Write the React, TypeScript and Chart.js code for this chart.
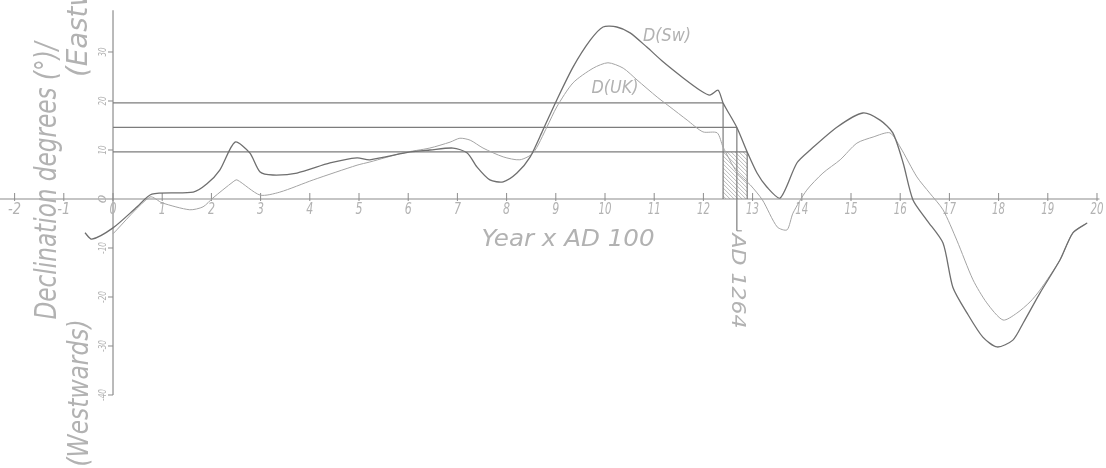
import React, { useEffect, useRef } from "react";
import { Chart, registerables } from "chart.js";
Chart.register(...registerables);

// ---- Data (years in units of AD 100, declination in degrees) ----
const swYears = [-0.57, -0.43, 0, 0.49, 0.79, 1.63, 1.91, 2.17, 2.48, 2.78, 2.99, 3.25, 3.74, 4.41, 4.96, 5.22, 6.04, 6.44, 6.91, 7.2, 7.4, 7.66, 7.93, 8.21, 8.48, 8.74, 9.02, 9.35, 9.7, 9.96, 10.24, 10.51, 10.85, 11.18, 11.59, 11.93, 12.13, 12.3, 12.4, 12.68, 12.89, 13.09, 13.29, 13.56, 13.9, 14.17, 14.72, 15.24, 15.59, 15.85, 16.06, 16.26, 16.54, 16.87, 17.07, 17.36, 17.68, 17.97, 18.29, 18.5, 18.84, 19.25, 19.51, 19.8];
const swDecl = [-6.9, -8.2, -5.9, -1.6, 1.0, 1.4, 3.1, 5.9, 11.6, 9.4, 5.5, 4.9, 5.3, 7.35, 8.4, 8.0, 9.6, 10.0, 10.4, 9.4, 6.5, 3.9, 3.5, 5.3, 8.6, 14.1, 20.2, 26.9, 32.4, 35.1, 35.1, 33.9, 31.0, 28.0, 24.7, 22.2, 21.2, 22.2, 19.6, 14.6, 9.6, 5.3, 2.45, 0.2, 7.35, 10.0, 14.7, 17.55, 16.1, 13.5, 7.35, -0.2, -4.3, -9.0, -18.0, -23.3, -28.2, -30.2, -28.8, -25.3, -19.2, -12.4, -6.9, -4.9];

const ukYears = [0, 0.75, 1.0, 1.56, 1.83, 2.03, 2.44, 2.52, 2.99, 3.39, 4.07, 4.96, 5.22, 5.89, 6.44, 6.85, 7.05, 7.26, 7.52, 7.93, 8.27, 8.54, 8.82, 9.02, 9.35, 9.76, 10.06, 10.37, 10.65, 11.06, 11.32, 11.67, 11.99, 12.28, 12.4, 12.68, 12.95, 13.2, 13.5, 13.7, 13.82, 14.1, 14.43, 14.78, 15.12, 15.45, 15.79, 16.0, 16.34, 16.6, 16.87, 17.15, 17.48, 17.76, 18.09, 18.37, 18.64, 18.84, 19.25, 19.51, 19.8];
const ukDecl = [-7.1, 0.4, -0.8, -2.2, -1.6, 0.2, 3.5, 3.9, 0.8, 1.4, 3.9, 6.9, 7.55, 9.4, 10.4, 11.6, 12.4, 12.0, 10.4, 8.6, 8.0, 9.4, 14.7, 18.8, 23.7, 26.7, 27.8, 26.7, 24.3, 20.8, 18.8, 16.1, 13.7, 13.5, 10.6, 5.5, 2.9, -0.2, -5.7, -6.3, -2.9, 1.8, 5.3, 8.0, 11.4, 12.65, 13.5, 10.6, 4.5, 1.2, -2.2, -8.4, -16.5, -21.2, -24.7, -23.3, -21.0, -18.6, -12.4, -6.9, -4.9];

const xTickValues = [-2, -1, 0, 1, 2, 3, 4, 5, 6, 7, 8, 9, 10, 11, 12, 13, 14, 15, 16, 17, 18, 19, 20];
const xTickLabels = ["-2", "-1", "0", "1", "2", "3", "4", "5", "6", "7", "8", "9", "10", "11", "12", "13", "14", "15", "16", "17", "18", "19", "20"];
const yTickValues = [-40, -30, -20, -10, 0, 10, 20, 30];
const yTickLabels = ["-40", "-30", "-20", "-10", "0", "10", "20", "30"];

const refLevels = [19.6, 14.6, 9.6];
const refYears = [12.4, 12.68, 12.89];
const markBottom = -6.5;
const markLabel = "AD 1264";

const xTitle = "Year x AD 100";
const yTitle = "Declination degrees (°)/";
const eastLabel = "(Eastwards)";
const westLabel = "(Westwards)";
const swLabel = "D(Sw)";
const ukLabel = "D(UK)";

const TEXT = "#b2b2b2";
const FONT = '"DejaVu Sans", sans-serif';

function drawText(ctx: CanvasRenderingContext2D, text: string, x: number, y: number, size: number, width: number | null, angle: number) {
  ctx.save();
  ctx.translate(x, y);
  ctx.rotate(angle);
  ctx.font = `italic 200 ${size}px ${FONT}`;
  const w = ctx.measureText(text).width;
  if (width) ctx.scale(width / w, 1);
  ctx.fillStyle = TEXT;
  ctx.textAlign = "center";
  ctx.textBaseline = "middle";
  ctx.fillText(text, 0, 0);
  ctx.restore();
}

const drawingPlugin = {
  id: "drawing",
  beforeDatasetsDraw(chart: any) {
    const ctx: CanvasRenderingContext2D = chart.ctx;
    const xs = chart.scales.x;
    const ys = chart.scales.y;
    const X = (v: number) => xs.getPixelForValue(v);
    const Y = (v: number) => ys.getPixelForValue(v);
    ctx.save();
    // hatch
    const hx0 = X(refYears[0]);
    const hx1 = X(refYears[2]);
    const hy0 = Y(refLevels[2]);
    const hy1 = Y(0);
    ctx.beginPath();
    ctx.rect(hx0, hy0, hx1 - hx0, hy1 - hy0);
    ctx.clip();
    ctx.strokeStyle = "#a8a8a8";
    ctx.lineWidth = 0.8;
    for (let k = -80; k < 80; k += 4) {
      ctx.beginPath();
      ctx.moveTo(hx0 + k, hy0);
      ctx.lineTo(hx0 + k + (hy1 - hy0), hy1);
      ctx.stroke();
    }
    ctx.restore();

    ctx.save();
    ctx.strokeStyle = "#8c8c8c";
    ctx.lineWidth = 1.2;
    // x axis
    ctx.beginPath();
    ctx.moveTo(0, Y(0));
    ctx.lineTo(X(20.05), Y(0));
    ctx.stroke();
    // y axis
    ctx.beginPath();
    ctx.moveTo(X(0), Y(-40));
    ctx.lineTo(X(0), Y(38.5));
    ctx.stroke();
    ctx.lineWidth = 1;
    xTickValues.forEach((v) => {
      ctx.beginPath();
      ctx.moveTo(X(v), Y(0) - 6);
      ctx.lineTo(X(v), Y(0) + 2);
      ctx.stroke();
    });
    yTickValues.forEach((v) => {
      if (v === 0) return;
      ctx.beginPath();
      ctx.moveTo(X(0) - 5, Y(v));
      ctx.lineTo(X(0), Y(v));
      ctx.stroke();
    });
    // small dash at the foot of the AD 1264 marker
    ctx.beginPath();
    ctx.moveTo(X(refYears[1]), Y(markBottom));
    ctx.lineTo(X(refYears[1]) + 5, Y(markBottom));
    ctx.stroke();
    ctx.restore();

    // tick labels
    xTickValues.forEach((v, i) => {
      drawText(ctx, xTickLabels[i], X(v), Y(0) + 11, 15, xTickLabels[i].length > 1 ? 13 : 7, 0);
    });
    yTickValues.forEach((v, i) => {
      drawText(ctx, yTickLabels[i], X(0) - 10, Y(v), 10, yTickLabels[i].length > 2 ? 12 : 9, -Math.PI / 2);
    });

    // titles
    drawText(ctx, xTitle, 568, 240, 23, 173, 0);
    drawText(ctx, yTitle, 48, 181, 30, 277, -Math.PI / 2);
    drawText(ctx, eastLabel, 79, -5, 29, 164, -Math.PI / 2);
    drawText(ctx, westLabel, 80, 393, 29, 147, -Math.PI / 2);
    drawText(ctx, markLabel, X(refYears[1]), 281, 19, 95, Math.PI / 2);
    drawText(ctx, swLabel, 667, 36, 18, 48, 0);
    drawText(ctx, ukLabel, 615, 88, 18, 47, 0);
  },
};

export default function App() {
  const ref = useRef<HTMLCanvasElement>(null);
  useEffect(() => {
    if (!ref.current) return;
    const toXY = (xsArr: number[], ysArr: number[]) => xsArr.map((x, i) => ({ x, y: ysArr[i] }));
    const refLine = (color: string) => ({ borderColor: color, borderWidth: 1.2, pointRadius: 0, showLine: true, tension: 0 });
    const datasets: any[] = [
      { label: swLabel, data: toXY(swYears, swDecl), borderColor: "#6f6f6f", borderWidth: 1.3, pointRadius: 0, showLine: true, tension: 0.25 },
      { label: ukLabel, data: toXY(ukYears, ukDecl), borderColor: "#a4a4a4", borderWidth: 1, pointRadius: 0, showLine: true, tension: 0.25 },
    ];
    refLevels.forEach((lv, i) => {
      datasets.push({ label: "h" + i, data: [{ x: 0, y: lv }, { x: refYears[i], y: lv }], ...refLine("#7c7c7c") });
      datasets.push({ label: "v" + i, data: [{ x: refYears[i], y: lv }, { x: refYears[i], y: i === 1 ? markBottom : 0 }], ...refLine("#7c7c7c") });
    });
    const chart = new Chart(ref.current, {
      type: "scatter",
      data: { datasets },
      options: {
        animation: false,
        responsive: false,
        maintainAspectRatio: false,
        layout: { padding: 0 },
        plugins: { legend: { display: false }, tooltip: { enabled: false } },
        scales: {
          x: { type: "linear", min: -2.297, max: 20.183, display: false },
          y: { type: "linear", min: -54.9, max: 40.61, display: false },
        },
      },
      plugins: [drawingPlugin],
    });
    return () => chart.destroy();
  }, []);
  return (
    <div style={{ position: "fixed", left: 0, top: 0, width: 1106, height: 468, background: "#fff" }}>
      <canvas ref={ref} width={1106} height={468} style={{ display: "block" }} />
    </div>
  );
}
